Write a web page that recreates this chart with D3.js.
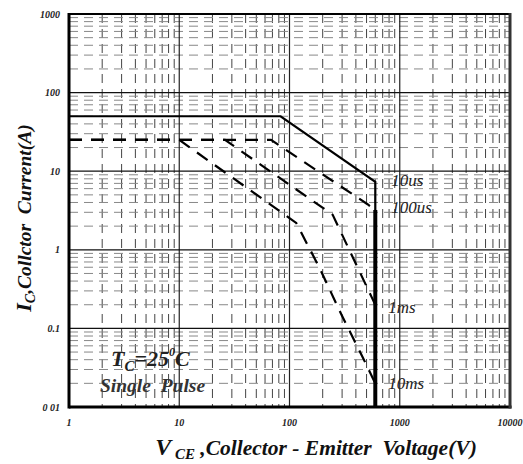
<!DOCTYPE html>
<html><head><meta charset="utf-8">
<script src="https://cdn.jsdelivr.net/npm/d3@7"></script>
<style>body{margin:0;background:#fff}svg{display:block}text{white-space:pre}</style>
</head><body>
<script>
const xTicks = [1, 10, 100, 1000, 10000];
const xTickLabels = ["1", "10", "100", "1000", "10000"];
const yTicks = [0.01, 0.1, 1, 10, 100, 1000];
const yTickLabels = ["0 01", "0.1", "1", "10", "100", "1000"];

const v10us = [1, 83, 600, 600];
const i10us = [50, 50, 7.3, 0.01];
const v100us = [1, 68, 510, 600];
const i100us = [25, 25, 3.8, 3.2];
const v1ms = [1, 26, 246, 556, 600];
const i1ms = [25, 25, 2.8, 0.25, 0.2];
const v10ms = [1, 10, 115, 187, 297, 461, 600];
const i10ms = [25, 25, 2.2, 0.59, 0.148, 0.043, 0.02];
const vLimit = [600, 600];
const iLimit = [3.2, 0.01];

const curveLabels = ["10us", "100us", "1ms", "10ms"];
const curveLabelI = [7.5, 3.4, 0.18, 0.0196];

const FONT = "Liberation Serif";
const W = 523, H = 464;
const m = {left: 69, right: 13, top: 14, bottom: 57};
const svg = d3.select("body").append("svg").attr("width", W).attr("height", H);
const x = d3.scaleLog().domain([1, 10000]).range([m.left, W - m.right]);
const y = d3.scaleLog().domain([0.01, 1000]).range([H - m.bottom, m.top]);

// minor grid
const minorX = [], minorY = [];
for (let d = 1; d < 10000; d *= 10) for (let k = 2; k <= 9; k++) minorX.push(d * k);
for (let d = 0.01; d < 999; d *= 10) for (let k = 2; k <= 9; k++) minorY.push(d * k);
const g = svg.append("g");
g.selectAll(".mx").data(minorX).join("line")
  .attr("x1", d => x(d)).attr("x2", d => x(d)).attr("y1", y(1000)).attr("y2", y(0.01))
  .attr("stroke", "#444").attr("stroke-width", 1).attr("stroke-dasharray", "9,6");
g.selectAll(".my").data(minorY).join("line")
  .attr("y1", d => y(d)).attr("y2", d => y(d)).attr("x1", x(1)).attr("x2", x(10000))
  .attr("stroke", "#888").attr("stroke-width", 1).attr("stroke-dasharray", "9,6");
// major grid
g.selectAll(".Mx").data(xTicks).join("line")
  .attr("x1", d => x(d)).attr("x2", d => x(d)).attr("y1", y(1000)).attr("y2", y(0.01))
  .attr("stroke", "#222").attr("stroke-width", 1.2);
g.selectAll(".My").data(yTicks).join("line")
  .attr("y1", d => y(d)).attr("y2", d => y(d)).attr("x1", x(1)).attr("x2", x(10000))
  .attr("stroke", "#111").attr("stroke-width", 1.2);

// curves
const line = d3.line().x(d => x(d[0])).y(d => y(d[1]));
const zip = (a, b) => a.map((v, i) => [v, b[i]]);
const dashed = [zip(v100us, i100us), zip(v1ms, i1ms), zip(v10ms, i10ms)];
svg.selectAll(".dc").data(dashed).join("path")
  .attr("d", line).attr("fill", "none").attr("stroke", "#000").attr("stroke-width", 2.2)
  .attr("stroke-dasharray", "13,9");
svg.append("path").attr("d", line(zip(v10us, i10us))).attr("fill", "none")
  .attr("stroke", "#000").attr("stroke-width", 2.2);
svg.append("path").attr("d", line(zip(vLimit, iLimit))).attr("fill", "none")
  .attr("stroke", "#000").attr("stroke-width", 4);

// border
svg.append("line").attr("x1", x(1)).attr("x2", x(10000)).attr("y1", y(1000)).attr("y2", y(1000)).attr("stroke", "#000").attr("stroke-width", 2);
svg.append("line").attr("x1", x(1)).attr("x2", x(1)).attr("y1", y(1000) - 1).attr("y2", y(0.01) + 1.5).attr("stroke", "#000").attr("stroke-width", 3);
svg.append("line").attr("x1", x(1)).attr("x2", x(10000) + 1.5).attr("y1", y(0.01)).attr("y2", y(0.01)).attr("stroke", "#000").attr("stroke-width", 3);
svg.append("line").attr("x1", x(10000)).attr("x2", x(10000)).attr("y1", y(1000) - 1).attr("y2", y(0.01) + 1.5).attr("stroke", "#333").attr("stroke-width", 3);

const txt = (sel) => sel.attr("font-family", FONT).attr("font-weight", "bold").attr("font-style", "italic");

// tick labels
svg.selectAll(".xl").data(xTicks).join("text").call(txt)
  .attr("x", d => x(d)).attr("y", y(0.01) + 19).attr("text-anchor", "middle")
  .attr("font-size", 10).attr("fill", "#222").text((d, i) => xTickLabels[i]);
svg.selectAll(".yl").data(yTicks).join("text").call(txt)
  .attr("x", x(1) - 9).attr("y", d => y(d) + 3.5).attr("text-anchor", "end")
  .attr("font-size", 10).attr("fill", "#222").text((d, i) => yTickLabels[i]);

// curve labels
svg.selectAll(".cl").data(curveLabels).join("text").call(txt)
  .attr("x", (d, i) => x(600) + (i < 2 ? 16 : 13)).attr("y", (d, i) => y(curveLabelI[i]) + 5)
  .attr("font-size", 17).attr("font-weight", "normal").attr("fill", "#222").text(d => d);

// TC annotation
const t1 = svg.append("text").call(txt).attr("x", 111).attr("y", 366).attr("font-size", 22).attr("fill", "#222");
t1.append("tspan").text("T");
t1.append("tspan").attr("font-size", 15).attr("dy", 5).text("C");
t1.append("tspan").attr("dy", -5).text("=25");
t1.append("tspan").attr("font-size", 12).attr("dy", -10).text("0");
t1.append("tspan").attr("dy", 10).text("C");
svg.append("text").call(txt).attr("x", 100).attr("y", 392).attr("font-size", 19.5).attr("fill", "#333").text("Single  Pulse");

// axis titles
const xt = svg.append("text").call(txt).attr("x", 316).attr("y", 455).attr("text-anchor", "middle").attr("font-size", 21.5).attr("fill", "#111");
xt.append("tspan").attr("font-size", 24).text("V");
xt.append("tspan").attr("font-size", 15).attr("dy", 4).text(" CE");
xt.append("tspan").attr("dy", -4).text(" ,Collector - Emitter  Voltage(V)");
const yt = svg.append("text").call(txt).attr("transform", "translate(31,218) rotate(-90)").attr("text-anchor", "middle").attr("font-size", 19.5).attr("fill", "#111");
yt.append("tspan").attr("font-size", 22).text("I");
yt.append("tspan").attr("font-size", 14).attr("dy", 4).text("C");
yt.append("tspan").attr("dy", -4).text(",Collctor  Current(A)");
</script>
</body></html>
